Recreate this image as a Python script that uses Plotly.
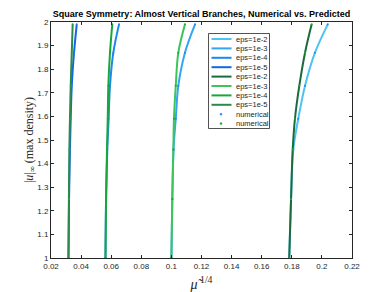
import plotly.graph_objects as go

# u levels (|u|_inf) sampled along each branch
u_vals = [1.0, 1.25, 1.46, 1.59, 1.73, 1.87, 1.99]

eps_labels = ["eps=1e-2", "eps=1e-3", "eps=1e-4", "eps=1e-5"]

# blue branches (mu^(1/4) values)
blue_x = [
    [0.1783, 0.1795, 0.1810, 0.1843, 0.1888, 0.1954, 0.2039],
    [0.1000, 0.1006, 0.1014, 0.1029, 0.1046, 0.1090, 0.1157],
    [0.0562, 0.0566, 0.0574, 0.0583, 0.0592, 0.0614, 0.0652],
    [0.0316, 0.0320, 0.0326, 0.0331, 0.0338, 0.0353, 0.0371],
]
# green branches
green_x = [
    [0.1783, 0.1795, 0.1806, 0.1821, 0.1850, 0.1888, 0.1932],
    [0.1000, 0.1006, 0.1013, 0.1017, 0.1029, 0.1046, 0.1090],
    [0.0562, 0.0566, 0.0572, 0.0577, 0.0581, 0.0592, 0.0607],
    [0.0316, 0.0319, 0.0322, 0.0326, 0.0331, 0.0338, 0.0344],
]

blue_colors = ["#4CC3F2", "#35A4F5", "#1E86F0", "#1266E8"]
green_colors = ["#1C6B3A", "#3CC65A", "#17A83A", "#2C8A4C"]
num_labels = ["numerical", "numerical"]
num_colors = ["#1E86F0", "#17A83A"]

x_ticks = [0.02, 0.04, 0.06, 0.08, 0.1, 0.12, 0.14, 0.16, 0.18, 0.2, 0.22]
y_ticks = [1, 1.1, 1.2, 1.3, 1.4, 1.5, 1.6, 1.7, 1.8, 1.9, 2]

# page is offset by the default 8px body margin
OFF = 8
W, H = 389 - OFF, 292 - OFF
ML, MR, MT, MB = 51 - OFF, 37, 22 - OFF, 34
PW, PH = W - ML - MR, H - MT - MB

def px2paper(px, py):
    # page pixel coordinates -> paper coordinates
    return (px - OFF - ML) / PW, (H - MB - (py - OFF)) / PH

fig = go.Figure()
for xs, c, lab in zip(blue_x, blue_colors, eps_labels):
    fig.add_trace(go.Scatter(x=xs, y=u_vals, mode="lines", name=lab, showlegend=False,
                             line=dict(color=c, width=2, shape="spline")))
for xs, c, lab in zip(green_x, green_colors, eps_labels):
    fig.add_trace(go.Scatter(x=xs, y=u_vals, mode="lines", name=lab, showlegend=False,
                             line=dict(color=c, width=2, shape="spline")))

def joined(arrs):
    xx, yy = [], []
    for a in arrs:
        xx += a + [None]
        yy += u_vals + [None]
    return xx, yy

bx, by = joined(blue_x)
gx, gy = joined(green_x)
fig.add_trace(go.Scatter(x=bx, y=by, mode="markers", name="numerical", showlegend=False,
                         marker=dict(color=num_colors[0], size=2)))
fig.add_trace(go.Scatter(x=gx, y=gy, mode="markers", name="numerical", showlegend=False,
                         marker=dict(color=num_colors[1], size=2)))

# custom compact legend (MATLAB style)
shapes, annots = [], []
bx0, by0 = px2paper(208.5, 33.5)
bx1, by1 = px2paper(269.5, 128.5)
shapes.append(dict(type="rect", xref="paper", yref="paper", x0=bx0, y0=by1, x1=bx1, y1=by0,
                   line=dict(color="#262626", width=0.8), fillcolor="white", layer="above"))
entries = ([(l, c, "line") for l, c in zip(eps_labels, blue_colors)] +
           [(l, c, "line") for l, c in zip(eps_labels, green_colors)] +
           [(l, c, "dot") for l, c in zip(num_labels, num_colors)])
y_first, dy = 39.0, 9.4
for i, (lab, col, kind) in enumerate(entries):
    py = y_first + i * dy
    if kind == "line":
        lx0, ly = px2paper(211.5, py)
        lx1, _ = px2paper(231.5, py)
        shapes.append(dict(type="line", xref="paper", yref="paper", x0=lx0, x1=lx1, y0=ly, y1=ly,
                           line=dict(color=col, width=2), layer="above"))
    else:
        cx, cy = px2paper(221.0, py)
        dx, dyp = 1.0 / PW, 1.0 / PH
        shapes.append(dict(type="circle", xref="paper", yref="paper", x0=cx - dx, x1=cx + dx,
                           y0=cy - dyp, y1=cy + dyp, line=dict(color=col, width=0.5),
                           fillcolor=col, layer="above"))
    tx, ty = px2paper(233.5, py)
    annots.append(dict(text=lab, xref="paper", yref="paper", x=tx, y=ty, xanchor="left",
                       yanchor="middle", showarrow=False,
                       font=dict(family="Liberation Sans", size=7.5, color="#262626")))

axis_common = dict(showline=True, linecolor="#262626", linewidth=1, mirror="ticks",
                   ticks="inside", ticklen=3, tickcolor="#262626", showgrid=False,
                   zeroline=False, automargin=False,
                   tickfont=dict(family="Liberation Sans", size=8, color="#262626"))

fig.update_layout(
    width=W, height=H,
    margin=dict(l=ML, r=MR, t=MT, b=MB),
    paper_bgcolor="white", plot_bgcolor="white",
    title=dict(text="<b>Square Symmetry: Almost Vertical Branches, Numerical vs. Predicted</b>",
               x=(201.5 - OFF) / W, xanchor="center", y=1 - (14 - OFF) / H, yanchor="middle",
               font=dict(family="Liberation Sans", size=9, color="black")),
    xaxis=dict(range=[0.02, 0.22], tickvals=x_ticks, ticktext=[f"{v:g}" for v in x_ticks],
               title=dict(text="<i>μ̃</i><sup> 1/4</sup>", standoff=9,
                          font=dict(family="Liberation Serif", size=14, color="#262626")),
               **axis_common),
    yaxis=dict(range=[1, 2], tickvals=y_ticks, ticktext=[f"{v:g}" for v in y_ticks],
               title=dict(text="|<i>u</i>|<sub>∞</sub> (max density)", standoff=0,
                          font=dict(family="Liberation Serif", size=12, color="#262626")),
               **axis_common),
    shapes=shapes, annotations=annots,
    showlegend=False,
)

fig.write_html("out.html")
